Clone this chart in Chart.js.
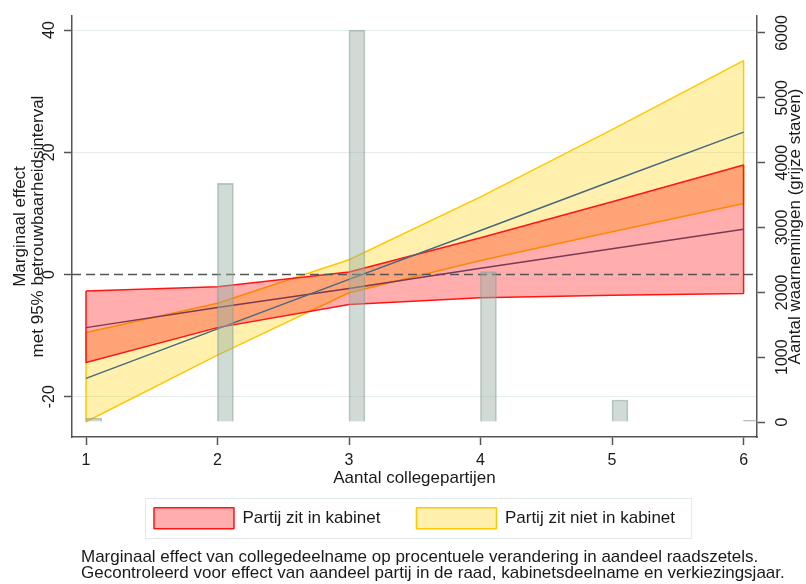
<!DOCTYPE html>
<html>
<head>
<meta charset="utf-8">
<script src="https://cdn.jsdelivr.net/npm/chart.js@4.4.1/dist/chart.umd.min.js"></script>
<style>
html,body{margin:0;padding:0;background:#fff;}
canvas{display:block;}
</style>
</head>
<body>
<canvas id="c" width="806" height="584"></canvas>
<script>
// ---- data ----
const categories = [1, 2, 3, 4, 5, 6];
const observations = [60, 3680, 6045, 2320, 340, 25];
const inCabinetUpper = [-2.7, -2.0, 0.4, 6.0, 11.9, 17.9];
const inCabinetEffect = [-8.7, -5.4, -2.3, 1.0, 4.2, 7.4];
const inCabinetLower = [-14.4, -8.7, -4.9, -3.8, -3.4, -3.1];
const notInCabinetUpper = [-9.5, -4.7, 2.4, 12.7, 23.7, 35.0];
const notInCabinetEffect = [-17.0, -8.9, -0.8, 7.2, 15.3, 23.3];
const notInCabinetLower = [-24.1, -13.2, -3.0, 2.3, 7.0, 11.6];
const effectTicks = [-20, 0, 20, 40];
const countTicks = [0, 1000, 2000, 3000, 4000, 5000, 6000];
const seriesLabels = ['Partij zit in kabinet', 'Partij zit niet in kabinet'];
const xTitle = 'Aantal collegepartijen';
const yTitle = ['Marginaal effect', 'met 95% betrouwbaarheidsinterval'];
const y2Title = 'Aantal waarnemingen (grijze staven)';
const notes = [
  'Marginaal effect van collegedeelname op procentuele verandering in aandeel raadszetels.',
  'Gecontroleerd voor effect van aandeel partij in de raad, kabinetsdeelname en verkiezingsjaar.'
];

// ---- style constants ----
const FONT = "'Liberation Sans', Arial, Helvetica, sans-serif";
const TEXT = '#1a1a1a';
const AXIS = '#555555';
const BAR_SHIFT = 0.06;

Chart.defaults.font.family = FONT;
Chart.defaults.color = TEXT;

const pts = ys => categories.map((x, i) => ({x: x, y: ys[i]}));
const band = (up, lo) => {
  const a = pts(up);
  const b = pts(lo).reverse();
  return a.concat(b, [a[0]]);
};

const annotate = {
  id: 'annotate',
  beforeDatasetDraw(chart, args) {
    if (args.index !== 2) return;
    const {ctx, chartArea} = chart;
    const y = chart.scales.y.getPixelForValue(0);
    ctx.save();
    ctx.beginPath();
    ctx.rect(chartArea.left, chartArea.top, chartArea.width, chartArea.height);
    ctx.clip();
    ctx.setLineDash([9, 5]);
    ctx.strokeStyle = AXIS;
    ctx.lineWidth = 1.5;
    ctx.beginPath();
    ctx.moveTo(chartArea.left, y);
    ctx.lineTo(chartArea.right, y);
    ctx.stroke();
    ctx.restore();
  },
  afterDraw(chart) {
    const {ctx, chartArea} = chart;
    const y2 = chart.scales.y2;
    ctx.save();
    ctx.font = '17px ' + FONT;
    ctx.fillStyle = TEXT;
    ctx.textAlign = 'center';
    ctx.textBaseline = 'middle';
    ctx.translate(y2.right - 11, (chartArea.top + chartArea.bottom) / 2);
    ctx.rotate(-Math.PI / 2);
    ctx.fillText(y2Title, 0, 0);
    ctx.restore();

    const hb = chart.legend.legendHitBoxes;
    if (hb && hb.length) {
      const first = hb[0], last = hb[hb.length - 1];
      const l = Math.round(first.left - 9) + 0.5;
      const r = Math.round(last.left + last.width + 16) + 0.5;
      const t = Math.round(first.top - 10) + 0.5;
      const b = Math.round(first.top + 21 + 9) + 0.5;
      ctx.save();
      ctx.strokeStyle = '#e3eaee';
      ctx.lineWidth = 1;
      ctx.strokeRect(l, t, r - l, b - t);
      ctx.restore();
    }

    ctx.save();
    ctx.font = '17px ' + FONT;
    ctx.fillStyle = TEXT;
    ctx.textAlign = 'left';
    ctx.textBaseline = 'middle';
    ctx.fillText(notes[0], 81, 557);
    ctx.fillText(notes[1], 81, 573.5);
    ctx.restore();
  }
};

new Chart(document.getElementById('c'), {
  type: 'line',
  data: {
    datasets: [
      {
        label: seriesLabels[1],
        data: band(notInCabinetUpper, notInCabinetLower),
        fill: 'shape',
        backgroundColor: 'rgba(255,212,0,0.32)',
        borderColor: 'rgb(255,200,0)',
        borderWidth: 1.5,
        borderJoinStyle: 'bevel',
        pointRadius: 0,
        tension: 0,
        yAxisID: 'y',
        order: 10
      },
      {
        label: seriesLabels[0],
        data: band(inCabinetUpper, inCabinetLower),
        fill: 'shape',
        backgroundColor: 'rgba(255,0,0,0.32)',
        borderColor: 'rgb(255,20,20)',
        borderWidth: 1.5,
        borderJoinStyle: 'bevel',
        pointRadius: 0,
        tension: 0,
        yAxisID: 'y',
        order: 8
      },
      {
        label: 'effect in kabinet',
        data: pts(inCabinetEffect),
        fill: false,
        borderColor: '#7a3a52',
        borderWidth: 1.5,
        pointRadius: 0,
        tension: 0,
        yAxisID: 'y',
        order: 5
      },
      {
        label: 'effect niet in kabinet',
        data: pts(notInCabinetEffect),
        fill: false,
        borderColor: '#46697f',
        borderWidth: 1.5,
        pointRadius: 0,
        tension: 0,
        yAxisID: 'y',
        order: 4
      },
      {
        type: 'bar',
        label: 'waarnemingen',
        data: categories.map((c, i) => ({x: c + BAR_SHIFT, y: observations[i]})),
        yAxisID: 'y2',
        backgroundColor: 'rgba(150,175,165,0.45)',
        borderColor: 'rgba(130,155,148,0.55)',
        borderWidth: 1,
        barThickness: 16,
        order: 1
      }
    ]
  },
  options: {
    responsive: false,
    animation: false,
    events: [],
    layout: {padding: {top: 16, left: 0, right: 0, bottom: 45.3}},
    scales: {
      x: {
        type: 'linear',
        min: 0.8935,
        max: 6.102,
        offset: false,
        afterBuildTicks: s => { s.ticks = categories.map(v => ({value: v})); },
        afterFit: s => { s.height = 34.7; },
        ticks: {callback: v => String(v), font: {size: 16}, color: TEXT, padding: 6, autoSkip: false, maxRotation: 0},
        grid: {offset: false, drawOnChartArea: false, drawTicks: true, tickLength: 8, tickColor: AXIS, tickWidth: 1.5},
        border: {display: true, color: AXIS, width: 1.5},
        title: {display: true, text: xTitle, font: {size: 17}, color: TEXT, padding: {top: 0, bottom: -17}}
      },
      y: {
        type: 'linear',
        position: 'left',
        min: -26.6,
        max: 42.3,
        afterBuildTicks: s => { s.ticks = effectTicks.map(v => ({value: v})); },
        afterFit: s => { s.width = 72; },
        ticks: {callback: v => String(v), font: {size: 16}, color: TEXT, minRotation: 90, maxRotation: 90, crossAlign: 'center', padding: 3, autoSkip: false},
        grid: {
          color: c => (c.tick && c.tick.value === 0) ? 'rgba(0,0,0,0)' : '#e4ecef',
          lineWidth: 1,
          tickColor: AXIS,
          tickWidth: 1.5,
          tickLength: 8
        },
        border: {display: true, color: AXIS, width: 1.5},
        title: {display: true, text: yTitle, font: {size: 17, lineHeight: 18 / 17}, color: TEXT, padding: {top: 11, bottom: 0}}
      },
      y2: {
        type: 'linear',
        position: 'right',
        min: -231,
        max: 6262,
        afterBuildTicks: s => { s.ticks = countTicks.map(v => ({value: v})); },
        afterFit: s => { s.width = 49; },
        ticks: {callback: v => String(v), font: {size: 16}, color: TEXT, minRotation: 90, maxRotation: 90, crossAlign: 'center', padding: 0, autoSkip: false},
        grid: {drawOnChartArea: false, tickColor: AXIS, tickWidth: 1.5, tickLength: 8},
        border: {display: true, color: AXIS, width: 1.5}
      }
    },
    plugins: {
      tooltip: {enabled: false},
      title: {display: false},
      legend: {
        position: 'bottom',
        fullSize: false,
        align: 'center',
        labels: {
          boxWidth: 80,
          boxHeight: 21,
          padding: 36,
          font: {size: 17},
          color: TEXT,
          filter: item => item.datasetIndex < 2,
          sort: (a, b) => b.datasetIndex - a.datasetIndex
        }
      }
    }
  },
  plugins: [annotate]
});
</script>
</body>
</html>
